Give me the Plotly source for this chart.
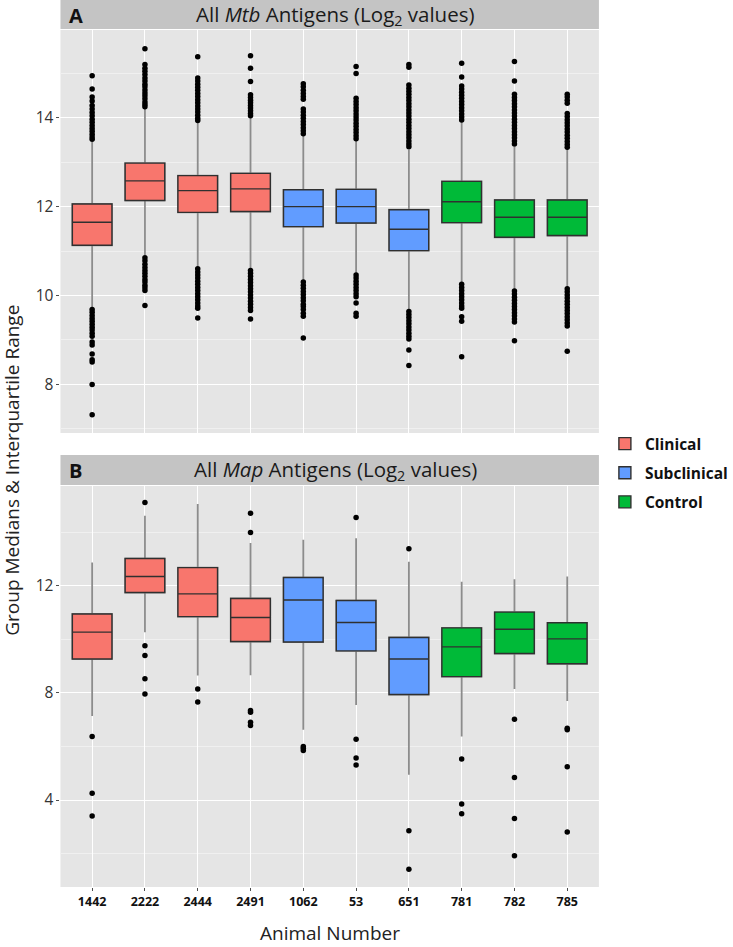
import plotly.graph_objects as go

animals = ["1442", "2222", "2444", "2491", "1062", "53", "651", "781", "782", "785"]
groups = ["Clinical", "Clinical", "Clinical", "Clinical", "Subclinical", "Subclinical",
          "Subclinical", "Control", "Control", "Control"]
group_names = ["Clinical", "Subclinical", "Control"]
group_colors = {"Clinical": "#F8766D", "Subclinical": "#619CFF", "Control": "#00BA38"}

# Panel A: All Mtb antigens (log2)
mtb_q1 = [11.13, 12.14, 11.87, 11.89, 11.55, 11.63, 11.01, 11.64, 11.31, 11.35]
mtb_median = [11.65, 12.58, 12.36, 12.40, 12.00, 12.00, 11.49, 12.11, 11.76, 11.76]
mtb_q3 = [12.06, 12.98, 12.70, 12.75, 12.38, 12.39, 11.93, 12.57, 12.15, 12.15]
mtb_low = [9.73, 10.91, 10.65, 10.61, 10.35, 10.50, 9.68, 10.28, 10.13, 10.19]
mtb_high = [13.46, 14.22, 13.92, 14.03, 13.60, 13.50, 13.28, 13.92, 13.35, 13.32]
mtb_outliers = [
    [14.95, 14.65, 14.47, 14.38, 14.28, 14.2, 14.12, 14.05, 13.97, 13.9, 13.83, 13.76, 13.7, 13.63, 13.57, 13.52,
     9.68, 9.62, 9.55, 9.48, 9.42, 9.35, 9.28, 9.22, 9.15, 9.08, 8.95, 8.88, 8.68, 8.55, 8.5, 7.99, 7.31],
    [15.56, 15.2, 15.12, 15.05, 14.98, 14.9, 14.83, 14.76, 14.7, 14.63, 14.56, 14.5, 14.43, 14.36, 14.3, 14.25,
     10.85, 10.78, 10.7, 10.63, 10.56, 10.5, 10.43, 10.36, 10.3, 10.23, 10.17, 10.11, 9.77],
    [15.38, 14.9, 14.83, 14.76, 14.69, 14.62, 14.55, 14.48, 14.41, 14.34, 14.27, 14.2, 14.13, 14.06, 13.99, 13.94,
     10.6, 10.53, 10.46, 10.39, 10.32, 10.25, 10.18, 10.11, 10.04, 9.97, 9.9, 9.83, 9.76, 9.71, 9.49],
    [15.4, 15.12, 14.82, 14.52, 14.46, 14.4, 14.34, 14.28, 14.22, 14.16, 14.1, 14.05,
     10.56, 10.5, 10.43, 10.36, 10.29, 10.22, 10.15, 10.08, 10.01, 9.94, 9.87, 9.8, 9.73, 9.66, 9.47],
    [14.77, 14.7, 14.62, 14.55, 14.48, 14.42, 14.2, 14.13, 14.06, 13.99, 13.92, 13.85, 13.78, 13.71, 13.64,
     10.3, 10.23, 10.16, 10.09, 10.02, 9.95, 9.88, 9.8, 9.75, 9.68, 9.6, 9.53, 9.04],
    [15.16, 15.0, 14.44, 14.37, 14.3, 14.23, 14.16, 14.09, 14.02, 13.95, 13.88, 13.81, 13.74, 13.67, 13.6, 13.53,
     10.46, 10.39, 10.32, 10.25, 10.18, 10.11, 10.04, 9.97, 9.83, 9.6, 9.53],
    [15.2, 15.14, 14.74, 14.67, 14.6, 14.53, 14.46, 14.39, 14.32, 14.25, 14.18, 14.11, 14.04, 13.97, 13.9, 13.83,
     13.76, 13.69, 13.62, 13.55, 13.48, 13.41, 13.35,
     9.64, 9.57, 9.5, 9.43, 9.36, 9.29, 9.22, 9.15, 9.08, 9.02, 8.77, 8.42],
    [15.23, 14.92, 14.72, 14.65, 14.58, 14.51, 14.44, 14.37, 14.3, 14.23, 14.16, 14.09, 14.02, 13.95,
     10.25, 10.18, 10.11, 10.04, 9.97, 9.9, 9.83, 9.76, 9.71, 9.52, 9.42, 8.62],
    [15.27, 14.83, 14.53, 14.46, 14.39, 14.32, 14.25, 14.18, 14.11, 14.04, 13.97, 13.9, 13.83, 13.76, 13.69, 13.62,
     13.55, 13.48, 13.41,
     10.1, 10.03, 9.96, 9.89, 9.82, 9.75, 9.68, 9.61, 9.54, 9.47, 9.4, 8.98],
    [14.53, 14.47, 14.4, 14.33, 14.1, 14.03, 13.96, 13.89, 13.82, 13.75, 13.68, 13.61, 13.54, 13.47, 13.4, 13.34,
     10.15, 10.08, 10.01, 9.94, 9.87, 9.8, 9.73, 9.66, 9.59, 9.52, 9.45, 9.38, 9.31, 8.74],
]

# Panel B: All Map antigens (log2)
map_q1 = [9.27, 11.75, 10.85, 9.92, 9.90, 9.57, 7.94, 8.61, 9.47, 9.09]
map_median = [10.27, 12.35, 11.70, 10.82, 11.47, 10.63, 9.27, 9.72, 10.38, 10.02]
map_q3 = [10.95, 13.02, 12.68, 11.53, 12.31, 11.45, 10.07, 10.43, 11.02, 10.62]
map_low = [7.14, 10.27, 8.65, 8.66, 6.62, 7.55, 4.94, 6.37, 8.15, 7.70]
map_high = [12.87, 14.62, 15.06, 13.60, 13.72, 13.78, 12.90, 12.15, 12.25, 12.35]
map_outliers = [
    [6.37, 4.25, 3.40],
    [15.11, 9.76, 9.40, 8.53, 7.96],
    [8.15, 7.66],
    [14.71, 13.99, 7.34, 7.28, 6.90, 6.78],
    [6.00, 5.93, 5.85],
    [14.55, 6.27, 5.57, 5.31],
    [13.39, 2.85, 1.41],
    [5.53, 3.85, 3.49],
    [7.02, 4.84, 3.31, 1.92],
    [6.68, 6.62, 5.24, 2.80],
]

mtb_range = [6.9, 15.98]
map_range = [0.75, 15.73]
x_range = [-0.6, 9.6]

FONT = "Open Sans"
W, H = 733, 947
fig = go.Figure()


def add_panel(q1, med, q3, lo, hi, outliers, xa, ya, show_legend):
    for g in group_names:
        idx = [i for i, gg in enumerate(groups) if gg == g]
        xs = [animals[i] for i in idx]
        g_q1 = [q1[i] for i in idx]
        g_med = [med[i] for i in idx]
        g_q3 = [q3[i] for i in idx]
        # grey whiskers layer
        fig.add_trace(go.Box(
            x=xs, q1=g_q1, median=g_med, q3=g_q3,
            lowerfence=[lo[i] for i in idx], upperfence=[hi[i] for i in idx],
            name=g, legendgroup=g, showlegend=False,
            fillcolor=group_colors[g], line=dict(color="#8c8c8c", width=1.8),
            width=0.75, whiskerwidth=0, boxpoints=False, hoverinfo="skip",
            xaxis=xa, yaxis=ya,
        ))
        # box body layer with dark outline
        fig.add_trace(go.Box(
            x=xs, q1=g_q1, median=g_med, q3=g_q3,
            lowerfence=g_q1, upperfence=g_q3,
            name=g, legendgroup=g, showlegend=show_legend,
            fillcolor=group_colors[g], line=dict(color="#303030", width=1.4),
            width=0.75, whiskerwidth=0, boxpoints=False, hoverinfo="skip",
            xaxis=xa, yaxis=ya,
        ))
    ox, oy = [], []
    for a, vals in zip(animals, outliers):
        for v in vals:
            ox.append(a)
            oy.append(v)
    fig.add_trace(go.Scatter(
        x=ox, y=oy, mode="markers", showlegend=False,
        marker=dict(color="black", size=5.5, line=dict(width=0)),
        xaxis=xa, yaxis=ya, hoverinfo="skip",
    ))


add_panel(mtb_q1, mtb_median, mtb_q3, mtb_low, mtb_high, mtb_outliers, "x", "y", True)
add_panel(map_q1, map_median, map_q3, map_low, map_high, map_outliers, "x2", "y2", False)

px_l, px_r = 62, 614
xdom = [px_l / W, px_r / W]
a_top, a_bot = 30, 433
b_top, b_bot = 486, 887

axis_common = dict(
    showgrid=True, gridcolor="white", gridwidth=1.2, zeroline=False,
    showline=False, ticks="outside", ticklen=3, tickcolor="#4d4d4d",
)

fig.update_layout(
    width=W, height=H,
    margin=dict(l=0, r=0, t=0, b=0),
    paper_bgcolor="white",
    plot_bgcolor="#E5E5E5",
    boxmode="overlay",
    font=dict(family=FONT, color="#222"),
    xaxis=dict(domain=xdom, anchor="y", type="category", categoryorder="array",
               categoryarray=animals, range=x_range, showticklabels=False,
               **{**axis_common, "ticks": ""}),
    xaxis2=dict(domain=xdom, anchor="y2", type="category", categoryorder="array",
                categoryarray=animals, range=x_range,
                tickfont=dict(family=FONT, size=12.5, color="#111", weight="bold"),
                **axis_common),
    yaxis=dict(domain=[1 - a_bot / H, 1 - a_top / H], anchor="x", range=mtb_range,
               tickvals=[8, 10, 12, 14], tickfont=dict(size=15.5, color="#333"),
               minor=dict(tickvals=[7, 9, 11, 13, 15], showgrid=True, gridcolor="#F0F0F0", gridwidth=0.8, ticks=""),
               **axis_common),
    yaxis2=dict(domain=[1 - b_bot / H, 1 - b_top / H], anchor="x2", range=map_range,
                tickvals=[4, 8, 12], tickfont=dict(size=15.5, color="#333"),
                minor=dict(tickvals=[2, 6, 10, 14], showgrid=True, gridcolor="#F0F0F0", gridwidth=0.8, ticks=""),
                **axis_common),
    legend=dict(x=0.846, y=1 - 427 / H, xanchor="left", yanchor="top",
                font=dict(family=FONT, size=15.5, color="#111", weight="bold"),
                bgcolor="rgba(0,0,0,0)", tracegroupgap=6),
)

strip_color = "#C4C4C4"
for top, bot in [(0, 29), (455, 485)]:
    fig.add_shape(type="rect", xref="paper", yref="paper",
                  x0=px_l / W, x1=px_r / W, y0=1 - bot / H, y1=1 - top / H,
                  fillcolor=strip_color, line=dict(width=0), layer="below")

strips = [("A", "All <i>Mtb</i> Antigens (Log<sub>2</sub> values)", 15),
          ("B", "All <i>Map</i> Antigens (Log<sub>2</sub> values)", 470)]
for letter, title, yc in strips:
    fig.add_annotation(x=69 / W, y=1 - yc / H, xref="paper", yref="paper",
                       text="<b>" + letter + "</b>", showarrow=False, xanchor="left", yanchor="middle",
                       font=dict(family=FONT, size=20, color="#111"))
    fig.add_annotation(x=344 / W, y=1 - yc / H, xref="paper", yref="paper",
                       text=title, showarrow=False, xanchor="center", yanchor="middle",
                       font=dict(family=FONT, size=20.5, color="#1a1a1a"))

fig.add_annotation(x=12 / W, y=1 - 470 / H, xref="paper", yref="paper",
                   text="Group Medians & Interquartile Range", textangle=-90,
                   showarrow=False, xanchor="center", yanchor="middle",
                   font=dict(family=FONT, size=19, color="#222"))
fig.add_annotation(x=(px_l + px_r) / 2 / W, y=1 - 933 / H, xref="paper", yref="paper",
                   text="Animal Number", showarrow=False, xanchor="center", yanchor="middle",
                   font=dict(family=FONT, size=19, color="#222"))

fig.write_html("out.html", config={"displayModeBar": False},
               post_script="document.body.style.margin='0';document.body.style.overflow='hidden';")
